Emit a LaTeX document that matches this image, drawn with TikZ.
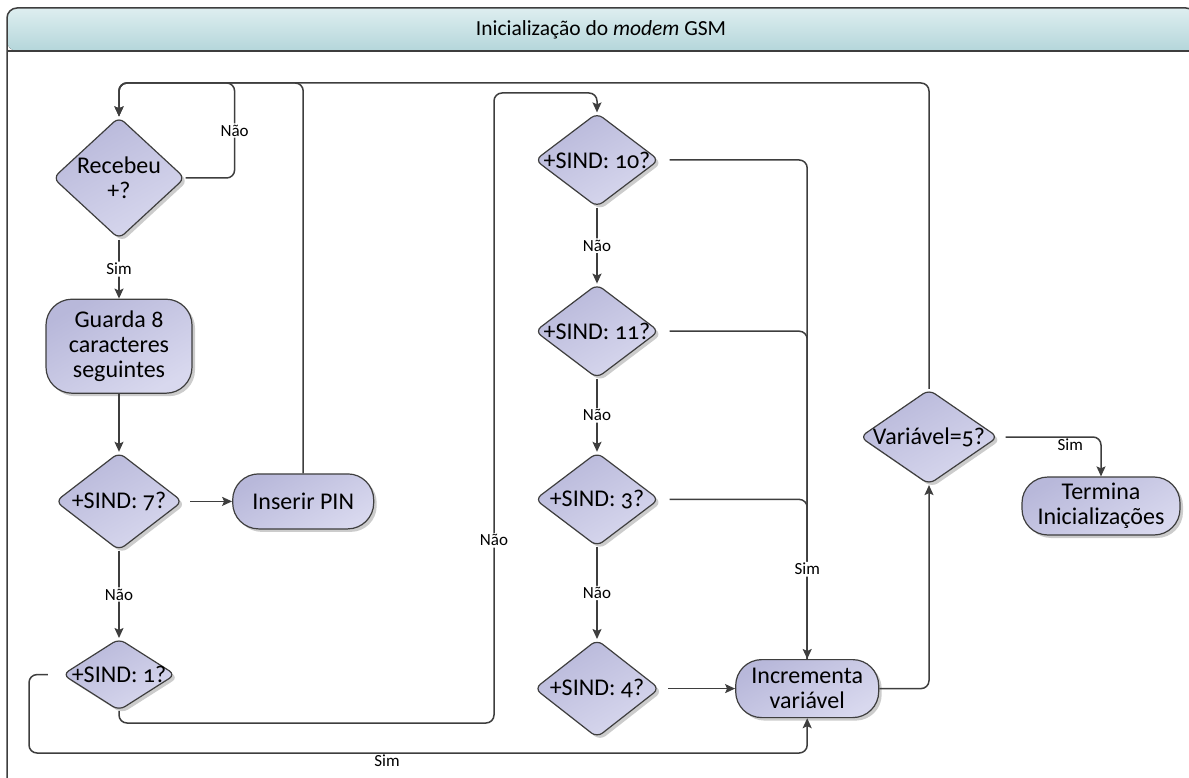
\documentclass[tikz,border=0pt]{standalone}
\usepackage{fontspec}
\setmainfont[Numbers=OldStyle]{Carlito}
\usepackage{xcolor}
\usetikzlibrary{shapes.geometric, arrows.meta, positioning, shadows}
\definecolor{lavTop}{RGB}{184,184,218}
\definecolor{lavBot}{RGB}{216,216,238}
\definecolor{hdrTop}{RGB}{222,238,240}
\definecolor{hdrBot}{RGB}{180,214,218}
\definecolor{lineGray}{RGB}{62,62,62}
\newcommand{\NodeFont}{\fontsize{24}{25}\selectfont}
\newcommand{\LblFont}{\fontsize{17}{19}\selectfont}
\newcommand{\TitleFont}{\fontsize{21.5}{24}\selectfont}

\begin{document}
\begin{tikzpicture}[
    x=1pt, y=-1pt,
    font=\NodeFont,
    base/.style={draw=lineGray, line width=1.2pt, top color=lavTop, bottom color=lavBot, shading angle=30,
        drop shadow={fill=black!40, shadow xshift=3pt, shadow yshift=-3pt}},
    dia/.style={base, diamond, rounded corners=7pt, inner sep=0pt},
    term/.style={base, rectangle, rounded corners=26pt, inner sep=0pt, align=center},
    dtext/.style={align=center, font=\NodeFont, inner sep=0pt},
    lbl/.style={font=\LblFont, fill=white, inner sep=1.5pt},
    line/.style={draw=lineGray, line width=1.5pt, rounded corners=8pt},
    arr/.style={line, -{Stealth[length=10pt, width=9pt, inset=2pt]}}
]
\useasboundingbox (0,0) rectangle (1189,778);

% Frame and title band
\begin{scope}
\clip (0,0) rectangle (1189,778);
\fill[top color=hdrTop, bottom color=hdrBot, rounded corners=10pt] (7,51) -- (7,8) -- (1196,8) -- (1196,51) -- cycle;
\draw[draw=lineGray, line width=1.5pt, rounded corners=10pt] (7,780) -- (7,8) -- (1196,8) -- (1196,780);
\draw[draw=lineGray, line width=1.5pt] (7,51) -- (1196,51);
\end{scope}
\node[font=\TitleFont] (title) at (601,30) {Inicialização do \textit{modem} GSM};

% Left column
\node[dia, minimum width=132pt, minimum height=122pt, label={[dtext]center:Recebeu\\+?}] (rec) at (119,178) {};
\node[term, minimum width=146pt, minimum height=94pt, below=59pt of rec] (store) {Guarda 8\\caracteres\\seguintes};
\node[dia, minimum width=127pt, minimum height=98pt, below=58pt of store, label={[dtext]center:+SIND: 7?}] (s7) {};
\node[term, minimum width=141pt, minimum height=55pt, right=49pt of s7] (pin) {Inserir PIN};
\node[dia, minimum width=113pt, minimum height=72pt, below=87pt of s7, label={[dtext]center:+SIND: 1?}] (s1) {};

% Middle column
\node[dia, minimum width=124pt, minimum height=94pt, label={[dtext]center:+SIND: 10?}] (s10) at (597,160) {};
\node[dia, minimum width=124pt, minimum height=94pt, below=76pt of s10, label={[dtext]center:+SIND: 11?}] (s11) {};
\node[dia, minimum width=124pt, minimum height=94pt, below=73pt of s11, label={[dtext]center:+SIND: 3?}] (s3) {};
\node[dia, minimum width=125pt, minimum height=98pt, below=92pt of s3, label={[dtext]center:+SIND: 4?}] (s4) {};
\node[term, minimum width=143pt, minimum height=58pt, right=75pt of s4] (inc) {Incrementa\\variável};

% Right column
\node[dia, minimum width=138pt, minimum height=95pt, label={[dtext]center:Variável=5?}] (var) at (929,437) {};
\node[term, minimum width=158pt, minimum height=58pt] (term) at (1101,506) {Termina\\Inicializações};

% Connectors
\coordinate (loopy) at (0,83);
\coordinate (naoB) at (494,723);
\coordinate (naoT) at (494,93);
\coordinate (simB) at (29,753);

\draw[arr] (rec.east) -- ++(49,0) |- node[lbl, pos=0.25]{Não} (rec.north |- loopy) -- (rec.north);
\draw[arr] (pin.north) |- (rec.north |- loopy) -- (rec.north);
\draw[arr] (var.north) |- (rec.north |- loopy) -- (rec.north);

\draw[arr] (rec.south) -- node[lbl]{Sim} (store.north);
\draw[arr] (store.south) -- (s7.north);
\draw[arr, shorten <=7pt] (s7.east) -- (pin.west);
\draw[arr] (s7.south) -- node[lbl]{Não} (s1.north);

\draw[arr] (s1.south) |- (naoB) -- node[lbl, pos=0.29]{Não} (naoT) -| (s10.north);
\draw[arr, shorten <=14pt] (s1.west) -| (simB) -| node[lbl, fill=none, below, pos=0.23]{Sim} (inc.south);

\draw[arr] (s10.south) -- node[lbl]{Não} (s11.north);
\draw[arr] (s11.south) -- node[lbl]{Não} (s3.north);
\draw[arr] (s3.south) -- node[lbl]{Não} (s4.north);

\draw[line, shorten <=10pt] (s11.east) -| (inc.north);
\draw[line, shorten <=10pt] (s3.east) -| (inc.north);
\draw[arr, shorten <=10pt] (s10.east) -| node[lbl, pos=0.91]{Sim} (inc.north);
\draw[arr, shorten <=8pt] (s4.east) -- (inc.west);

\draw[arr] (inc.east) -| (var.south);
\draw[arr, shorten <=7pt] (var.east) -| node[lbl, fill=none, below, pos=0.35]{Sim} (term.north);

\end{tikzpicture}
\end{document}
